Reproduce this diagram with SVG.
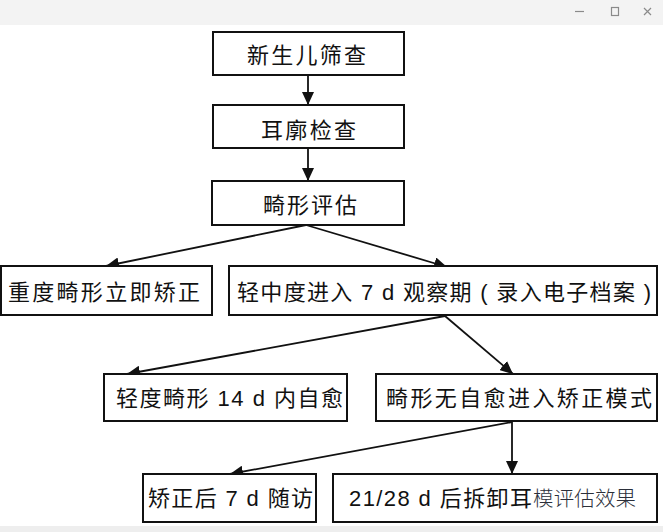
<svg xmlns="http://www.w3.org/2000/svg" width="663" height="532" viewBox="0 0 663 532">
<style>
.box{fill:#fff;stroke:#111;stroke-width:2}
.t{font-family:"Liberation Sans","Noto Sans CJK SC",sans-serif;font-size:22px;fill:#111;text-anchor:start}
.c{stroke:#111;stroke-width:1.8;fill:none;marker-end:url(#ah)}
.ctl{stroke:#8a8a8a;stroke-width:1.2;fill:none}
</style>
<defs>
<marker id="ah" markerUnits="userSpaceOnUse" markerWidth="14" markerHeight="12" refX="13" refY="6" orient="auto">
<path d="M0,0 L13,6 L0,12 z" fill="#111"/>
</marker>
</defs>
<rect x="0" y="0" width="663" height="532" fill="#fff"/>
<g id="titlebar">
<rect x="0" y="0" width="663" height="25" fill="#f3f3f3"/>
<line class="ctl" x1="575" y1="11.5" x2="584" y2="11.5"/>
<rect class="ctl" x="611.5" y="7.5" width="7" height="8"/>
<path class="ctl" d="M644,8 L651,15 M651,8 L644,15"/>
</g>
<rect x="0" y="526" width="663" height="6" fill="#eeeeee"/>
<g id="connectors">
<line class="c" x1="308" y1="75" x2="308" y2="105"/>
<line class="c" x1="308" y1="148" x2="308" y2="181"/>
<line class="c" x1="306" y1="225" x2="106" y2="266"/>
<line class="c" x1="306" y1="225" x2="447" y2="267"/>
<line class="c" x1="445" y1="316" x2="127" y2="374"/>
<line class="c" x1="445" y1="316" x2="513" y2="374"/>
<line class="c" x1="512" y1="422" x2="230" y2="474"/>
<line class="c" x1="512" y1="422" x2="512" y2="474"/>
</g>
<g id="n1"><rect class="box" x="213" y="32" width="191" height="43"/><text class="t" x="247" y="63" textLength="119" lengthAdjust="spacing">新生儿筛查</text></g>
<g id="n2"><rect class="box" x="213" y="105" width="191" height="43"/><text class="t" x="261" y="138" textLength="95" lengthAdjust="spacing">耳廓检查</text></g>
<g id="n3"><rect class="box" x="212" y="181" width="192" height="44"/><text class="t" x="263" y="213" textLength="94" lengthAdjust="spacing">畸形评估</text></g>
<g id="n4"><rect class="box" x="1" y="266" width="211" height="49"/><text class="t" x="8" y="300" textLength="192" lengthAdjust="spacing">重度畸形立即矫正</text></g>
<g id="n5"><rect class="box" x="229" y="266" width="428" height="49"/><text class="t" x="237" y="300" textLength="414" lengthAdjust="spacing">轻中度进入 7 d 观察期 ( 录入电子档案 )</text></g>
<g id="n6"><rect class="box" x="104" y="374" width="243" height="47"/><text class="t" x="116" y="406" textLength="227" lengthAdjust="spacing">轻度畸形 14 d 内自愈</text></g>
<g id="n7"><rect class="box" x="376" y="374" width="281" height="47"/><text class="t" x="386" y="406" textLength="266" lengthAdjust="spacing">畸形无自愈进入矫正模式</text></g>
<g id="n8"><rect class="box" x="143" y="474" width="173" height="48"/><text class="t" x="148" y="506" textLength="165" lengthAdjust="spacing">矫正后 7 d 随访</text></g>
<g id="n9"><rect class="box" x="333" y="474" width="324" height="48"/><text class="t" x="349" y="506" textLength="183" lengthAdjust="spacing">21/28 d 后拆卸耳</text><text x="533" y="506" font-family="'Noto Sans CJK SC',sans-serif" font-size="20.5" font-weight="300" fill="#2b2f3a" textLength="103" lengthAdjust="spacing">模评估效果</text></g>
</svg>
